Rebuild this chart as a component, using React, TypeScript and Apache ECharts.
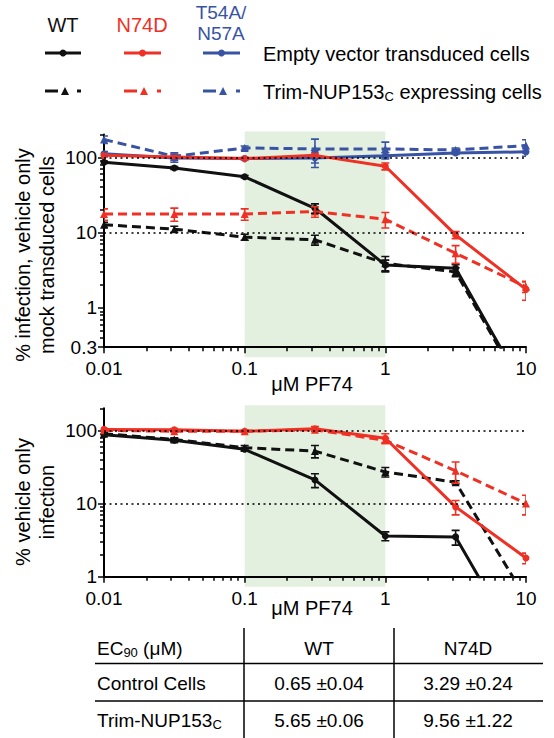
import React, { useEffect, useRef } from "react";
import * as echarts from "echarts";

// ---------- data ----------
const doses = [0.01, 0.0316, 0.1, 0.316, 1, 3.16, 10];

// top panel: % infection, vehicle only mock transduced cells
const topWtEmpty = [86, 72, 55, 21, 3.7, 3.35, 0.075];
const topWtEmptyErr = [3, 3, 2, 3, 0.6, 0.4, 0];
const topWtTrim = [12.7, 11.1, 8.7, 8.0, 3.9, 3.0, 0.07];
const topWtTrimErr = [1, 1, 0.8, 1.2, 0.9, 0.4, 0];
const topN74dEmpty = [106, 101, 96, 106, 76, 9.3, 1.76];
const topN74dEmptyErr = [5, 4, 3, 4, 8, 1, 0.5];
const topN74dTrim = [17.6, 17.6, 17.6, 19, 15, 5.3, 1.9];
const topN74dTrimErr = [3, 3.5, 3, 3, 3.5, 1.4, 0.3];
const topT54Empty = [111, 98, 96, 98, 105, 114, 118];
const topT54EmptyErr = [8, 12, 3, 25, 10, 5, 15];
const topT54Trim = [172, 103, 133, 129, 129, 125, 143];
const topT54TrimErr = [20, 12, 8, 45, 30, 8, 28];

// bottom panel: % vehicle only infection
const botWtEmpty = [87, 73, 55, 21, 3.6, 3.5, 0.075];
const botWtEmptyErr = [3, 4, 3, 4.5, 0.5, 0.8, 0];
const botWtTrim = [90, 75, 58, 52, 27, 19.5, 0.5];
const botWtTrimErr = [3, 4, 4, 10, 4, 1, 0];
const botN74dEmpty = [103, 102, 97, 105, 78, 9, 1.8];
const botN74dEmptyErr = [4, 4, 3, 8, 12, 2, 0.3];
const botN74dTrim = [100, 97, 97, 102, 73, 28, 10];
const botN74dTrimErr = [3, 3, 3, 4, 5, 9, 3];

// axes
const xTickValues = [0.01, 0.1, 1, 10];
const xTickLabels = ["0.01", "0.1", "1", "10"];
const topYTickValues = [0.3, 1, 10, 100];
const topYTickLabels = ["0.3", "1", "10", "100"];
const botYTickValues = [1, 10, 100];
const botYTickLabels = ["1", "10", "100"];
const topYRange = [0.3, 200];
const botYRange = [1, 200];
const xRange = [0.01, 10];
const shadeRange = [0.1, 1];
const referenceLevels = [100, 10];

// legend / titles / table
const strainNames = ["WT", "N74D", "T54A/\nN57A"];
const conditionLabels = ["Empty vector transduced cells", "Trim-NUP153"];
const topYTitle = "% infection, vehicle only\nmock transduced cells";
const botYTitle = "% vehicle only\ninfection";
const xTitle = "μM PF74";
const tableColumns = ["WT", "N74D"];
const tableRowLabels = ["Control Cells", "Trim-NUP153"];
const tableValues = [
  ["0.65 ±0.04", "3.29 ±0.24"],
  ["5.65 ±0.06", "9.56 ±1.22"],
];

// ---------- styles ----------
const BLACK = "#111111";
const RED = "#EE3124";
const BLUE = "#3953A4";
const SHADE = "#e4f0df";
const FONT = "'Liberation Sans', Arial, Helvetica, sans-serif";
const strainColors = [BLACK, RED, BLUE];

const L = (v: number) => Math.log10(v);

function minorTicks(lo: number, hi: number): number[] {
  const out: number[] = [];
  for (let d = -3; d <= 3; d++) {
    for (let k = 2; k <= 9; k++) {
      const v = k * Math.pow(10, d);
      if (v > lo * 1.0001 && v <= hi * 1.0001) out.push(L(v));
    }
  }
  return out;
}

function fmt(values: number[], labels: string[]) {
  return (v: number) => {
    const i = values.findIndex((t) => Math.abs(L(t) - v) < 1e-6);
    return i >= 0 ? labels[i] : "";
  };
}

const panels = [
  {
    grid: { left: 104, top: 134.6, width: 422, height: 212.6 },
    yRange: topYRange,
    yTicks: topYTickValues,
    yLabels: topYTickLabels,
    series: [
      { v: topT54Trim, e: topT54TrimErr, color: BLUE, dashed: true },
      { v: topT54Empty, e: topT54EmptyErr, color: BLUE, dashed: false },
      { v: topWtTrim, e: topWtTrimErr, color: BLACK, dashed: true },
      { v: topWtEmpty, e: topWtEmptyErr, color: BLACK, dashed: false },
      { v: topN74dTrim, e: topN74dTrimErr, color: RED, dashed: true },
      { v: topN74dEmpty, e: topN74dEmptyErr, color: RED, dashed: false },
    ],
  },
  {
    grid: { left: 104, top: 408.3, width: 422, height: 168.4 },
    yRange: botYRange,
    yTicks: botYTickValues,
    yLabels: botYTickLabels,
    series: [
      { v: botWtTrim, e: botWtTrimErr, color: BLACK, dashed: true },
      { v: botWtEmpty, e: botWtEmptyErr, color: BLACK, dashed: false },
      { v: botN74dTrim, e: botN74dTrimErr, color: RED, dashed: true },
      { v: botN74dEmpty, e: botN74dEmptyErr, color: RED, dashed: false },
    ],
  },
];

function text(x: number, y: number, t: string, opts: any = {}) {
  return {
    type: "text",
    x,
    y,
    silent: true,
    rotation: opts.rotation || 0,
    style: {
      text: t,
      fill: opts.color || "#000",
      fontSize: opts.fontSize || 20,
      fontFamily: FONT,
      lineHeight: opts.lineHeight,
      textAlign: opts.align || "left",
      align: opts.align || "left",
      textVerticalAlign: "middle",
      verticalAlign: "middle",
      rich: opts.rich,
    },
  };
}

function hline(x1: number, y1: number, x2: number, y2: number, color: string, width: number, dash?: number[]) {
  return {
    type: "line",
    silent: true,
    shape: { x1, y1, x2, y2 },
    style: { stroke: color, lineWidth: width, lineDash: dash },
  };
}

function buildOption() {
  const grids: any[] = [];
  const xAxes: any[] = [];
  const yAxes: any[] = [];
  const series: any[] = [];
  const axisLineStyle = { color: "#000", width: 2 };
  const tickStyle = { color: "#000", width: 1.5 };

  panels.forEach((p, gi) => {
    grids.push({ ...p.grid, containLabel: false });
    const xMaj = xTickValues.map(L);
    xAxes.push({
      type: "value", gridIndex: gi, position: "bottom", min: L(xRange[0]), max: L(xRange[1]),
      axisLine: { show: true, onZero: false, lineStyle: axisLineStyle },
      axisTick: { show: true, length: 6, lineStyle: tickStyle, customValues: xMaj },
      axisLabel: { customValues: xMaj, formatter: fmt(xTickValues, xTickLabels), fontSize: 19, color: "#000", fontFamily: FONT, margin: 12 },
      splitLine: { show: false },
    });
    xAxes.push({
      type: "value", gridIndex: gi, position: "bottom", min: L(xRange[0]), max: L(xRange[1]),
      axisLine: { show: false, onZero: false },
      axisTick: { show: true, length: 4, lineStyle: tickStyle, customValues: minorTicks(xRange[0], xRange[1]) },
      axisLabel: { show: false },
      splitLine: { show: false },
    });
    const yMaj = p.yTicks.map(L);
    yAxes.push({
      type: "value", gridIndex: gi, position: "left", min: L(p.yRange[0]), max: L(p.yRange[1]),
      axisLine: { show: true, onZero: false, lineStyle: axisLineStyle },
      axisTick: { show: true, length: 6, lineStyle: tickStyle, customValues: yMaj },
      axisLabel: { customValues: yMaj, formatter: fmt(p.yTicks, p.yLabels), fontSize: 19, color: "#000", fontFamily: FONT, margin: 7 },
      splitLine: { show: false },
    });
    yAxes.push({
      type: "value", gridIndex: gi, position: "left", min: L(p.yRange[0]), max: L(p.yRange[1]),
      axisLine: { show: false, onZero: false },
      axisTick: { show: true, length: 4, lineStyle: tickStyle, customValues: minorTicks(p.yRange[0], p.yRange[1]) },
      axisLabel: { show: false },
      splitLine: { show: false },
    });

    const xi = gi * 2;
    const yi = gi * 2;
    // dotted reference lines
    series.push({
      type: "line", xAxisIndex: xi, yAxisIndex: yi, data: [], silent: true, z: 1,
      markLine: {
        silent: true, symbol: ["none", "none"], label: { show: false },
        lineStyle: { color: "#000", type: [2, 3.5], width: 1.5 },
        data: referenceLevels.map((r) => ({ yAxis: L(r) })),
      },
    });
    p.series.forEach((s) => {
      series.push({
        type: "line", xAxisIndex: xi, yAxisIndex: yi, silent: true, clip: true, z: 3,
        data: doses.map((d, i) => [L(d), L(s.v[i])]),
        symbol: s.dashed ? "triangle" : "circle",
        symbolSize: s.dashed ? 8 : 7,
        itemStyle: { color: s.color },
        lineStyle: { color: s.color, width: 3, type: s.dashed ? [9, 5] : "solid" },
      });
      const errData = doses
        .map((d, i) => [L(d), s.v[i] - s.e[i] > 0 ? L(s.v[i] - s.e[i]) : NaN, L(s.v[i] + s.e[i]), s.e[i]])
        .filter((r) => r[3] > 0 && !isNaN(r[1]));
      series.push({
        type: "custom", xAxisIndex: xi, yAxisIndex: yi, silent: true, z: 4, clip: true,
        encode: { x: 0, y: [1, 2] },
        data: errData,
        renderItem: (params: any, api: any) => {
          const x = api.value(0);
          const lo = api.coord([x, api.value(1)]);
          const hi = api.coord([x, api.value(2)]);
          const w = 4;
          const st = { stroke: s.color, lineWidth: 1.6, fill: "none" };
          return {
            type: "group",
            children: [
              { type: "line", shape: { x1: lo[0], y1: lo[1], x2: hi[0], y2: hi[1] }, style: st },
              { type: "line", shape: { x1: lo[0] - w, y1: lo[1], x2: lo[0] + w, y2: lo[1] }, style: st },
              { type: "line", shape: { x1: hi[0] - w, y1: hi[1], x2: hi[0] + w, y2: hi[1] }, style: st },
            ],
          };
        },
      });
    });
  });

  // ---------- graphic: legend, titles, table ----------
  const g: any[] = [];
  const headX = [63, 142, 221];
  const lineX = [[45, 81], [124, 161], [203, 240]];
  strainNames.forEach((n, i) => {
    g.push(text(headX[i], i === 2 ? 23 : 25, n, { color: strainColors[i], align: "center", fontSize: i === 2 ? 19 : 20, lineHeight: 21 }));
    const [a, b] = lineX[i];
    const c = strainColors[i];
    g.push(hline(a, 53, b, 53, c, 3));
    g.push({ type: "circle", silent: true, shape: { cx: (a + b) / 2, cy: 53, r: 3.5 }, style: { fill: c } });
    // dashed sample
    g.push(hline(a, 91, a + 13, 91, c, 3));
    g.push({ type: "polygon", silent: true, shape: { points: [[a + 16, 95], [a + 20, 87], [a + 24, 95]] }, style: { fill: c } });
    g.push(hline(b - 4, 91, b, 91, c, 3));
  });
  g.push(text(263, 54, conditionLabels[0], { fontSize: 20 }));
  g.push(text(263, 92, "", {
    fontSize: 20,
    rich: undefined,
  }));
  g[g.length - 1].style.text = "{a|" + conditionLabels[1] + "}{b|C}{a| expressing cells}";
  g[g.length - 1].style.rich = {
    a: { fontSize: 20, fontFamily: FONT, fill: "#000", lineHeight: 22 },
    b: { fontSize: 13, fontFamily: FONT, fill: "#000", lineHeight: 10, verticalAlign: "bottom" },
  };

  // axis titles
  g.push(text(34.5, 255, topYTitle, { rotation: Math.PI / 2, align: "center", fontSize: 20, lineHeight: 24 }));
  g.push(text(34.5, 502, botYTitle, { rotation: Math.PI / 2, align: "center", fontSize: 20, lineHeight: 24 }));
  g.push(text(312, 384, xTitle, { align: "center", fontSize: 20 }));
  g.push(text(312, 608, xTitle, { align: "center", fontSize: 20 }));

  // table
  const colX = [319, 468];
  const rowY = [648, 683, 720];
  g.push(hline(95, 663.5, 543, 663.5, "#000", 1.5));
  g.push(hline(95, 701, 543, 701, "#000", 1.5));
  g.push(hline(244, 628, 244, 738, "#000", 1.5));
  g.push(hline(394, 628, 394, 738, "#000", 1.5));
  const richSub = {
    a: { fontSize: 19, fontFamily: FONT, fill: "#000", lineHeight: 22 },
    b: { fontSize: 13, fontFamily: FONT, fill: "#000", lineHeight: 10, verticalAlign: "bottom" },
  };
  g.push(text(97, rowY[0], "{a|EC}{b|90}{a| (μM)}", { fontSize: 19, rich: richSub }));
  tableColumns.forEach((c, j) => g.push(text(colX[j], rowY[0], c, { align: "center", fontSize: 19 })));
  g.push(text(97, rowY[1], tableRowLabels[0], { fontSize: 19 }));
  g.push(text(97, rowY[2], "{a|" + tableRowLabels[1] + "}{b|C}", { fontSize: 19, rich: richSub }));
  tableValues.forEach((row, r) =>
    row.forEach((v, j) => g.push(text(colX[j], rowY[r + 1], v, { align: "center", fontSize: 19 })))
  );

  return {
    animation: false,
    grid: grids,
    xAxis: xAxes,
    yAxis: yAxes,
    series,
    graphic: g,
  };
}

export default function App() {
  const ref = useRef<HTMLDivElement>(null);
  useEffect(() => {
    const chart = echarts.init(ref.current!, null, { renderer: "svg" });
    const option: any = buildOption();
    chart.setOption(option);
    const shades = panels.map((p, gi) => {
      const x0 = chart.convertToPixel({ xAxisIndex: gi * 2 } as any, L(shadeRange[0])) as any as number;
      const x1 = chart.convertToPixel({ xAxisIndex: gi * 2 } as any, L(shadeRange[1])) as any as number;
      const yT = chart.convertToPixel({ yAxisIndex: gi * 2 } as any, L(p.yRange[1])) as any as number;
      const yB = chart.convertToPixel({ yAxisIndex: gi * 2 } as any, L(p.yRange[0])) as any as number;
      return {
        type: "rect", z: -1, silent: true,
        shape: { x: x0, y: yT - 3, width: x1 - x0, height: yB - yT + 13 },
        style: { fill: SHADE },
      };
    });
    chart.setOption({ ...option, graphic: [...shades, ...option.graphic] }, true);
    return () => chart.dispose();
  }, []);
  return <div ref={ref} style={{ position: "absolute", left: 0, top: 0, width: 554, height: 738 }} />;
}
